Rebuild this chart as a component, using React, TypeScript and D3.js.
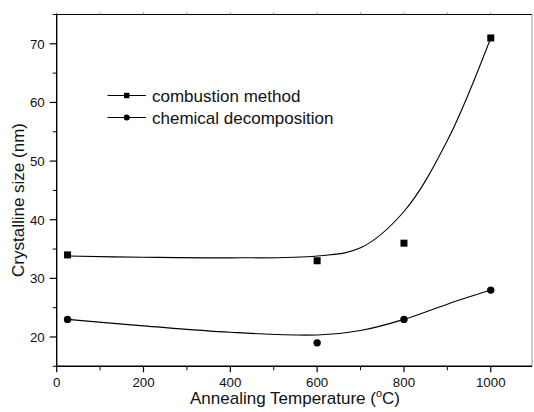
import React from "react";
import * as d3 from "d3";

// measured points
const temps = [25, 600, 800, 1000];
const combustion = [34, 33, 36, 71];
const chemical = [23, 19, 23, 28];

// fitted curves
const fitX = [25, 200, 400, 600, 700, 800, 900, 1000];
const combustionFit = [33.8, 33.6, 33.5, 33.8, 35.2, 41.4, 53.5, 71];
const chemicalFit = [23, 21.9, 20.8, 20.35, 21.1, 23, 25.6, 28];

const xTicks = [0, 200, 400, 600, 800, 1000];
const xMinor = [100, 300, 500, 700, 900, 1100];
const yTicks = [20, 30, 40, 50, 60, 70];
const yMinor = [15, 25, 35, 45, 55, 65, 75];

const W = 534, H = 412;
const left = 56.7, right = 532, top = 14.5, bottom = 366.3;
const font = "'Liberation Sans', Arial, sans-serif";

export default function App() {
  const x = d3.scaleLinear().domain([0, 1095]).range([left, right]);
  const y = d3.scaleLinear().domain([15, 75]).range([bottom, top]);

  const line = d3.line<[number, number]>()
    .x(d => x(d[0]))
    .y(d => y(d[1]))
    .curve(d3.curveCatmullRom.alpha(0.5));

  const fitA = fitX.map((t, i) => [t, combustionFit[i]] as [number, number]);
  const fitB = fitX.map((t, i) => [t, chemicalFit[i]] as [number, number]);

  const sq = 7;

  return (
    <svg width={W} height={H} style={{ position: "absolute", left: 0, top: 0, background: "#fff" }}
      fontFamily={font} fill="#111">
      {/* frame */}
      <line x1={left} x2={right} y1={top} y2={top} stroke="#000" strokeWidth={1} />
      <line x1={right} x2={right} y1={top} y2={bottom} stroke="#999" strokeWidth={1} />
      <line x1={left} x2={right} y1={bottom} y2={bottom} stroke="#000" strokeWidth={1.4} />
      <line x1={left} x2={left} y1={top} y2={bottom} stroke="#000" strokeWidth={1.4} />

      {/* x axis ticks */}
      {xTicks.map(t => (
        <g key={"xt" + t}>
          <line x1={x(t)} x2={x(t)} y1={bottom} y2={bottom + 6} stroke="#000" strokeWidth={1.2} />
          <line x1={x(t)} x2={x(t)} y1={top} y2={top - 2} stroke="#888" strokeWidth={1} />
          <text x={x(t)} y={386.5} textAnchor="middle" fontSize={13.3}>{t}</text>
        </g>
      ))}
      {xMinor.filter(t => x(t) <= right + 0.5).map(t => (
        <g key={"xm" + t}>
          <line x1={x(t)} x2={x(t)} y1={bottom} y2={bottom + 4} stroke="#000" strokeWidth={1} />
          <line x1={x(t)} x2={x(t)} y1={top} y2={top - 2} stroke="#888" strokeWidth={1} />
        </g>
      ))}

      {/* y axis ticks */}
      {yTicks.map(t => (
        <g key={"yt" + t}>
          <line x1={left - 7} x2={left} y1={y(t)} y2={y(t)} stroke="#000" strokeWidth={1.2} />
          <text x={left - 12} y={y(t) + 4.8} textAnchor="end" fontSize={13.3}>{t}</text>
        </g>
      ))}
      {yMinor.map(t => (
        <line key={"ym" + t} x1={left - 4} x2={left} y1={y(t)} y2={y(t)} stroke="#000" strokeWidth={1} />
      ))}

      {/* axis titles */}
      <text x={295} y={404} textAnchor="middle" fontSize={17}>
        Annealing Temperature (<tspan fontSize={11} dy={-7}>o</tspan><tspan dy={7}>C)</tspan>
      </text>
      <text transform={`translate(23.5,200) rotate(-90)`} textAnchor="middle" fontSize={17}>
        Crystalline size (nm)
      </text>

      {/* fitted curves */}
      <path d={line(fitA) || ""} fill="none" stroke="#000" strokeWidth={1.1} />
      <path d={line(fitB) || ""} fill="none" stroke="#000" strokeWidth={1.1} />

      {/* markers */}
      {temps.map((t, i) => (
        <rect key={"s" + t} x={x(t) - sq / 2} y={y(combustion[i]) - sq / 2} width={sq} height={sq} fill="#000" />
      ))}
      {temps.map((t, i) => (
        <circle key={"c" + t} cx={x(t)} cy={y(chemical[i])} r={3.7} fill="#000" />
      ))}

      {/* legend */}
      <g>
        <line x1={107.5} x2={146} y1={95.5} y2={95.5} stroke="#000" strokeWidth={1.1} />
        <rect x={124} y={92.8} width={5.4} height={5.4} fill="#000" />
        <text x={152} y={101.5} fontSize={17}>combustion method</text>
        <line x1={107.5} x2={146} y1={117.5} y2={117.5} stroke="#000" strokeWidth={1.1} />
        <circle cx={126.7} cy={117.5} r={3} fill="#000" />
        <text x={152} y={123.5} fontSize={17}>chemical decomposition</text>
      </g>
    </svg>
  );
}
